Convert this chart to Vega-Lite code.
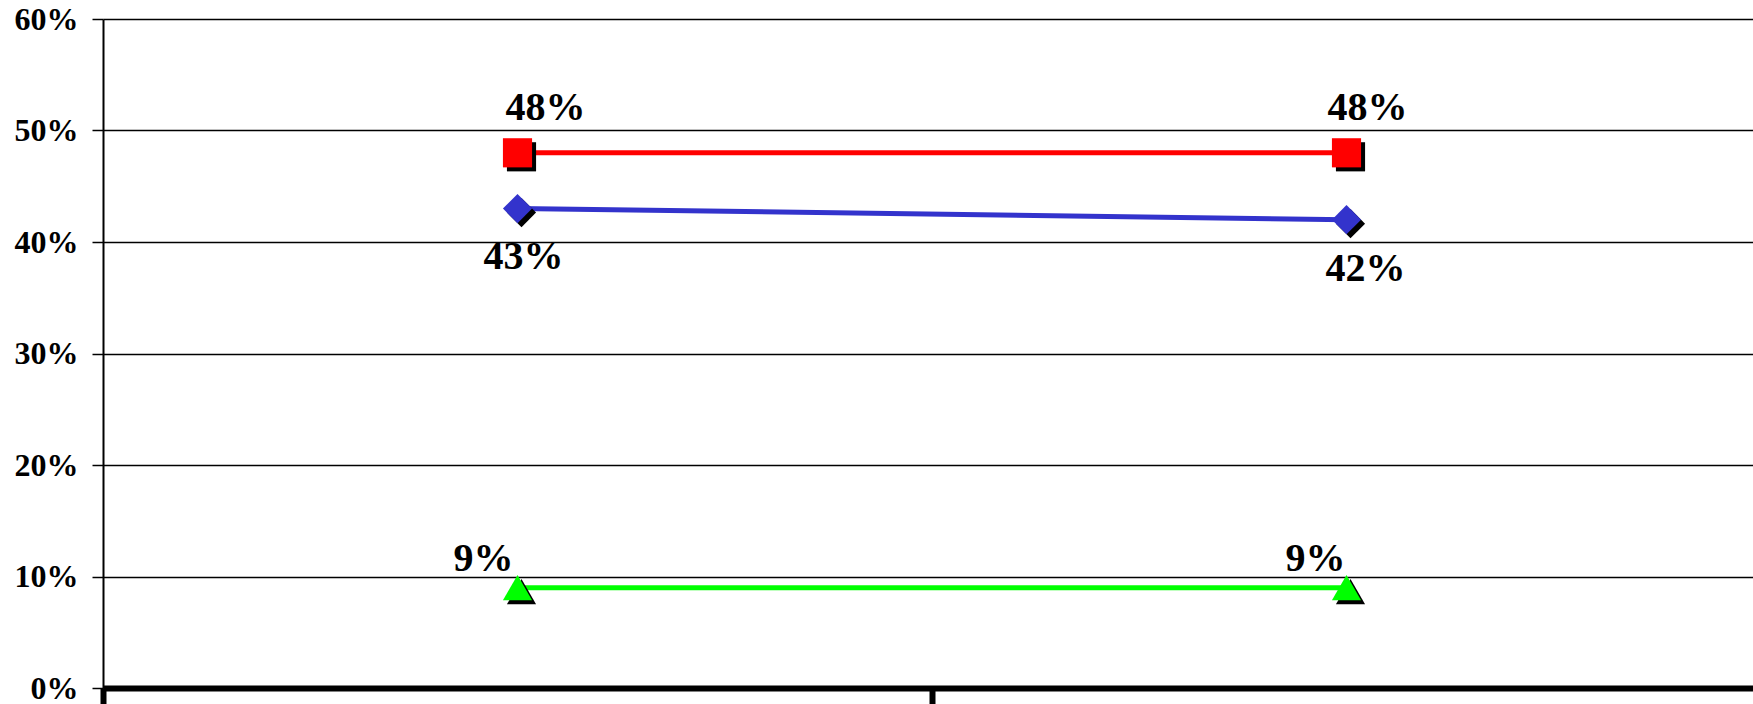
{
  "$schema": "https://vega.github.io/schema/vega-lite/v6.json",
  "width": 1650,
  "height": 669,
  "autosize": {"type": "none"},
  "padding": {"left": 103, "top": 19, "right": 0, "bottom": 16},
  "background": "white",
  "config": {"view": {"stroke": null}, "text": {"font": "Times New Roman", "fontWeight": "bold", "fontSize": 40, "color": "black", "baseline": "alphabetic", "align": "center"}},
  "data": {
    "values": [
      {"cat": "A", "series": "S1", "value": 0.48},
      {"cat": "B", "series": "S1", "value": 0.48},
      {"cat": "A", "series": "S2", "value": 0.43},
      {"cat": "B", "series": "S2", "value": 0.42},
      {"cat": "A", "series": "S3", "value": 0.09},
      {"cat": "B", "series": "S3", "value": 0.09}
    ]
  },
  "encoding": {
    "x": {
      "field": "cat", "type": "nominal",
      "scale": {"type": "band", "paddingInner": 0, "paddingOuter": 0, "range": [0, 1658]},
      "axis": {
        "title": null, "labels": false, "grid": false,
        "domainColor": "black", "domainWidth": 6,
        "ticks": true, "tickBand": "extent", "tickColor": "black", "tickWidth": 6, "tickSize": 16
      }
    },
    "y": {
      "field": "value", "type": "quantitative",
      "scale": {"domain": [0, 0.6], "nice": false, "zero": true},
      "axis": {
        "title": null, "format": ".0%", "values": [0, 0.1, 0.2, 0.3, 0.4, 0.5, 0.6],
        "labelFont": "Times New Roman", "labelFontWeight": "bold", "labelFontSize": 32,
        "labelColor": "black", "labelPadding": 14,
        "tickColor": "black", "tickSize": 11, "tickWidth": 1.5,
        "domainColor": "black", "domainWidth": 2,
        "grid": true, "gridColor": "black", "gridWidth": 1.5, "gridOpacity": 1
      }
    }
  },
  "layer": [
    {
      "mark": {"type": "line", "strokeWidth": 5},
      "encoding": {
        "color": {"field": "series", "type": "nominal", "legend": null,
          "scale": {"domain": ["S1", "S2", "S3"], "range": ["#FF0000", "#3333CC", "#00FF00"]}}
      }
    },
    {
      "mark": {"type": "point", "filled": true, "opacity": 1, "color": "black", "xOffset": 4, "yOffset": 4},
      "encoding": {
        "shape": {"field": "series", "type": "nominal", "legend": null,
          "scale": {"domain": ["S1", "S2", "S3"], "range": ["square", "diamond", "triangle-up"]}},
        "size": {"field": "series", "type": "nominal", "legend": null,
          "scale": {"domain": ["S1", "S2", "S3"], "range": [850, 850, 1050]}}
      }
    },
    {
      "mark": {"type": "point", "filled": true, "opacity": 1},
      "encoding": {
        "shape": {"field": "series", "type": "nominal", "legend": null,
          "scale": {"domain": ["S1", "S2", "S3"], "range": ["square", "diamond", "triangle-up"]}},
        "size": {"field": "series", "type": "nominal", "legend": null,
          "scale": {"domain": ["S1", "S2", "S3"], "range": [850, 850, 1050]}},
        "color": {"field": "series", "type": "nominal", "legend": null,
          "scale": {"domain": ["S1", "S2", "S3"], "range": ["#FF0000", "#3333CC", "#00FF00"]}}
      }
    },
    {
      "transform": [{"filter": "datum.series === 'S1' && datum.cat === 'A'"}],
      "mark": {"type": "text", "dx": 28, "dy": -33},
      "encoding": {"text": {"field": "value", "type": "quantitative", "format": ".0%"}}
    },
    {
      "transform": [{"filter": "datum.series === 'S1' && datum.cat === 'B'"}],
      "mark": {"type": "text", "dx": 21, "dy": -33},
      "encoding": {"text": {"field": "value", "type": "quantitative", "format": ".0%"}}
    },
    {
      "transform": [{"filter": "datum.series === 'S2' && datum.cat === 'A'"}],
      "mark": {"type": "text", "dx": 6, "dy": 60},
      "encoding": {"text": {"field": "value", "type": "quantitative", "format": ".0%"}}
    },
    {
      "transform": [{"filter": "datum.series === 'S2' && datum.cat === 'B'"}],
      "mark": {"type": "text", "dx": 19, "dy": 61},
      "encoding": {"text": {"field": "value", "type": "quantitative", "format": ".0%"}}
    },
    {
      "transform": [{"filter": "datum.series === 'S3' && datum.cat === 'A'"}],
      "mark": {"type": "text", "dx": -34, "dy": -17},
      "encoding": {"text": {"field": "value", "type": "quantitative", "format": ".0%"}}
    },
    {
      "transform": [{"filter": "datum.series === 'S3' && datum.cat === 'B'"}],
      "mark": {"type": "text", "dx": -31, "dy": -17},
      "encoding": {"text": {"field": "value", "type": "quantitative", "format": ".0%"}}
    }
  ]
}
